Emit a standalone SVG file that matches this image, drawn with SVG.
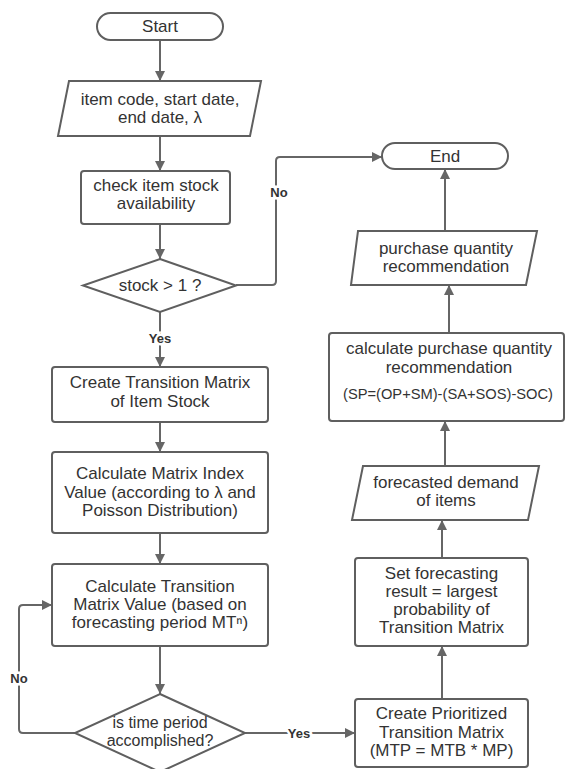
<svg xmlns="http://www.w3.org/2000/svg" width="566" height="769" viewBox="0 0 566 769">
<style>
.s{fill:#fff;stroke:#5f5f5f;stroke-width:2}
.t{font-family:"Liberation Sans",Arial,sans-serif;font-size:17px;fill:#333;text-anchor:middle}
.c{fill:none;stroke:#666;stroke-width:2}
.l{font-family:"Liberation Sans",Arial,sans-serif;font-size:13px;font-weight:bold;fill:#333;text-anchor:middle;paint-order:stroke;stroke:#fff;stroke-width:5px}
</style>
<defs>
<marker id="ah" viewBox="0 0 10 10" refX="10" refY="5" markerWidth="10" markerHeight="10" markerUnits="userSpaceOnUse" orient="auto">
<path d="M0,0 L10,5 L0,10 z" fill="#666"/>
</marker>
</defs>
<rect width="566" height="769" fill="#fff"/>
<g id="connectors">
<path class="c" marker-end="url(#ah)" d="M160,40 V81"/>
<path class="c" marker-end="url(#ah)" d="M160,136 V171"/>
<path class="c" marker-end="url(#ah)" d="M160,224 V259"/>
<path class="c" marker-end="url(#ah)" d="M236,285 H272 Q276,285 276,281 V161 Q276,157 280,157 H382"/>
<path class="c" marker-end="url(#ah)" d="M160,312 V367"/>
<path class="c" marker-end="url(#ah)" d="M160,422 V452"/>
<path class="c" marker-end="url(#ah)" d="M160,533 V564"/>
<path class="c" marker-end="url(#ah)" d="M160,646 V694"/>
<path class="c" marker-end="url(#ah)" d="M75,733 H23 Q19,733 19,729 V609 Q19,605 23,605 H52"/>
<path class="c" marker-end="url(#ah)" d="M245,733 H355"/>
<path class="c" marker-end="url(#ah)" d="M442,699 V646"/>
<path class="c" marker-end="url(#ah)" d="M442,558 V520"/>
<path class="c" marker-end="url(#ah)" d="M445,466 V421"/>
<path class="c" marker-end="url(#ah)" d="M449,333 V285"/>
<path class="c" marker-end="url(#ah)" d="M445,231 V169"/>
<text class="l" x="279" y="197">No</text>
<text class="l" x="160" y="343">Yes</text>
<text class="l" x="19" y="683">No</text>
<text class="l" x="299" y="738">Yes</text>
</g>
<g id="start">
<rect class="s" x="97" y="13" width="126" height="27" rx="13.5"/>
<text class="t" x="160" y="32">Start</text>
</g>
<g id="input">
<path class="s" d="M69,81 H261 L250,136 H58 Z"/>
<text class="t" x="160" y="105">item code, start date,</text>
<text class="t" x="160" y="123">end date, λ</text>
</g>
<g id="check">
<rect class="s" x="81" y="171" width="149" height="53" rx="3"/>
<text class="t" x="156" y="191">check item stock</text>
<text class="t" x="156" y="209">availability</text>
</g>
<g id="stock">
<path class="s" d="M160,259 L236,285.5 L160,312 L83,285.5 Z"/>
<text class="t" x="160" y="291">stock &gt; 1 ?</text>
</g>
<g id="create-tm">
<rect class="s" x="52" y="367" width="216" height="55" rx="3"/>
<text class="t" x="160" y="388">Create Transition Matrix</text>
<text class="t" x="160" y="407">of Item Stock</text>
</g>
<g id="matrix-index">
<rect class="s" x="52" y="452" width="216" height="81" rx="3"/>
<text class="t" x="160" y="479">Calculate Matrix Index</text>
<text class="t" x="160" y="498">Value (according to λ and</text>
<text class="t" x="160" y="516">Poisson Distribution)</text>
</g>
<g id="tm-value">
<rect class="s" x="52" y="564" width="216" height="82" rx="3"/>
<text class="t" x="160" y="592">Calculate Transition</text>
<text class="t" x="160" y="610">Matrix Value (based on</text>
<text class="t" x="160" y="628">forecasting period MTⁿ)</text>
</g>
<g id="time-period">
<path class="s" d="M160,694 L245,733 L160,772 L75,733 Z"/>
<text class="t" x="160" y="728" style="font-size:16px">is time period</text>
<text class="t" x="160" y="746" style="font-size:16px">accomplished?</text>
</g>
<g id="prioritized">
<rect class="s" x="355" y="699" width="173" height="68" rx="3"/>
<text class="t" x="441.5" y="719">Create Prioritized</text>
<text class="t" x="441.5" y="738">Transition Matrix</text>
<text class="t" x="441.5" y="756">(MTP = MTB * MP)</text>
</g>
<g id="set-result">
<rect class="s" x="355" y="558" width="173" height="88" rx="3"/>
<text class="t" x="441.5" y="579">Set forecasting</text>
<text class="t" x="441.5" y="597">result = largest</text>
<text class="t" x="441.5" y="615">probability of</text>
<text class="t" x="441.5" y="633">Transition Matrix</text>
</g>
<g id="forecasted">
<path class="s" d="M363,466 H539 L528,520 H352 Z"/>
<text class="t" x="446" y="488">forecasted demand</text>
<text class="t" x="446" y="506">of items</text>
</g>
<g id="calc-purchase">
<rect class="s" x="329" y="333" width="235" height="88" rx="3"/>
<text class="t" x="449" y="354">calculate purchase quantity</text>
<text class="t" x="449" y="373">recommendation</text>
<text class="t" x="448" y="399" style="font-size:15.5px" textLength="210" lengthAdjust="spacingAndGlyphs">(SP=(OP+SM)-(SA+SOS)-SOC)</text>
</g>
<g id="purchase">
<path class="s" d="M358,231 H537 L526,285 H351 Z"/>
<text class="t" x="446" y="254">purchase quantity</text>
<text class="t" x="446" y="272">recommendation</text>
</g>
<g id="end">
<rect class="s" x="382" y="143" width="126" height="26" rx="13"/>
<text class="t" x="445" y="162">End</text>
</g>
</svg>
